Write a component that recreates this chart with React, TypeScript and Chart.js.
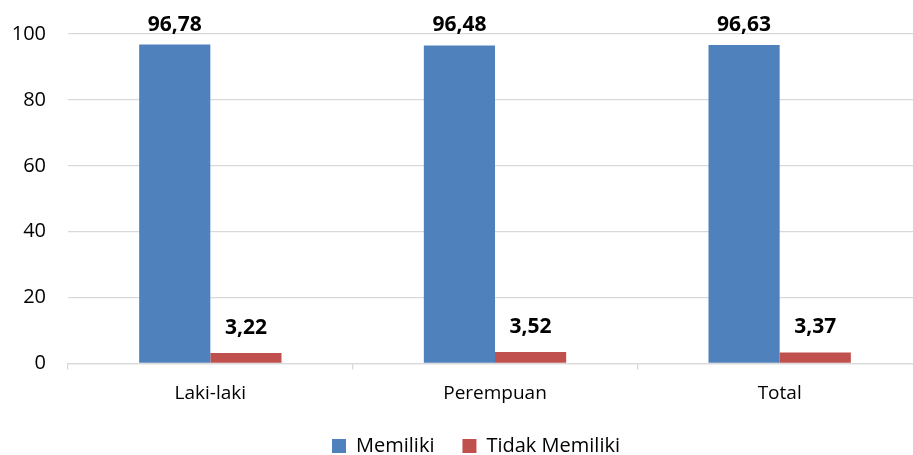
import React, { useEffect, useRef } from "react";
import { Chart, registerables } from "chart.js";

Chart.register(...registerables);

const categories = ["Laki-laki", "Perempuan", "Total"];
const memiliki = [96.78, 96.48, 96.63];
const tidakMemiliki = [3.22, 3.52, 3.37];
const yTicks = [0, 20, 40, 60, 80, 100];

const FONT = "'Open Sans', 'DejaVu Sans', sans-serif";
const BLUE = "#4f81bd";
const RED = "#c0504d";
const GRID = "#d9d9d9";

const fmt = (v: number) => v.toFixed(2).replace(".", ",");

// Bold value labels above each bar
const valueLabels = {
  id: "valueLabels",
  afterDatasetsDraw(chart: any) {
    const { ctx, chartArea } = chart;
    ctx.save();
    ctx.font = `bold 21px ${FONT}`;
    ctx.fillStyle = "#000";
    ctx.textAlign = "center";
    ctx.textBaseline = "alphabetic";
    chart.data.datasets.forEach((ds: any, di: number) => {
      const meta = chart.getDatasetMeta(di);
      meta.data.forEach((bar: any, i: number) => {
        const v = ds.data[i] as number;
        const y = Math.max(bar.y - 19, chartArea.top - 3);
        ctx.fillText(fmt(v), bar.x, y);
      });
    });
    ctx.restore();
  },
};

// Centre the legend under the whole canvas rather than the padded box
const legendShift = {
  id: "legendShift",
  afterLayout(chart: any) {
    const lg = chart.legend;
    if (!lg) return;
    lg.left += 15;
    lg.right += 15;
  },
};

export default function App() {
  const ref = useRef<HTMLCanvasElement | null>(null);

  useEffect(() => {
    if (!ref.current) return;
    const chart = new Chart(ref.current, {
      type: "bar",
      data: {
        labels: categories,
        datasets: [
          {
            label: "Memiliki",
            data: memiliki,
            backgroundColor: BLUE,
            categoryPercentage: 0.5,
            barPercentage: 1.0,
          },
          {
            label: "Tidak Memiliki",
            data: tidakMemiliki,
            backgroundColor: RED,
            categoryPercentage: 0.5,
            barPercentage: 1.0,
          },
        ],
      },
      options: {
        responsive: false,
        animation: false,
        devicePixelRatio: 1,
        layout: { padding: { left: 0, right: 30, top: 34, bottom: 0 } },
        plugins: {
          tooltip: { enabled: false },
          title: { display: false },
          legend: {
            position: "bottom",
            labels: {
              boxWidth: 14,
              boxHeight: 14,
              padding: 28,
              color: "#000",
              font: { family: FONT, size: 20 },
            },
          },
        },
        scales: {
          x: {
            grid: {
              drawOnChartArea: false,
              drawTicks: true,
              tickLength: 6,
              color: GRID,
              lineWidth: 1.3,
              offset: true,
            },
            border: { display: true, color: GRID, width: 1.3 },
            ticks: {
              color: "#000",
              padding: 13,
              font: { family: FONT, size: 19 },
            },
            afterFit: (scale: any) => {
              scale.height = 44.5;
            },
          },
          y: {
            min: 0,
            max: 100,
            afterBuildTicks: (scale: any) => {
              scale.ticks = yTicks.map((v) => ({ value: v }));
            },
            grid: { color: GRID, lineWidth: 1.3, drawTicks: false },
            border: { display: false },
            ticks: {
              color: "#000",
              padding: 22,
              font: { family: FONT, size: 20 },
            },
            afterFit: (scale: any) => {
              scale.width = 68;
            },
          },
        },
      },
      plugins: [valueLabels, legendShift],
    });
    return () => chart.destroy();
  }, []);

  return (
    <div
      style={{
        position: "fixed",
        left: 0,
        top: 0,
        width: 913,
        height: 455,
        overflow: "hidden",
        background: "#fff",
      }}
    >
      <canvas ref={ref} width={952} height={466} style={{ display: "block" }} />
    </div>
  );
}
